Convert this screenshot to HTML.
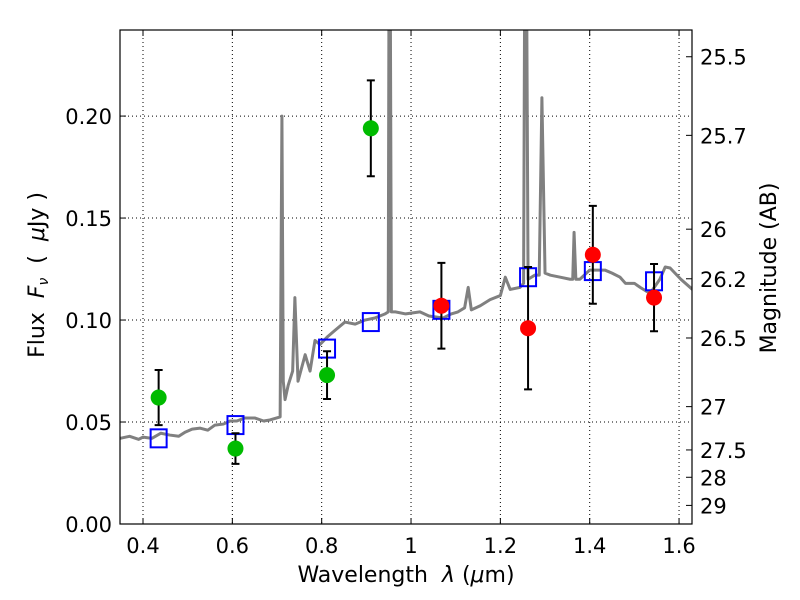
<!DOCTYPE html>
<html><head><meta charset="utf-8"><style>
body{margin:0;background:#fff}
svg{display:block;font-family:"DejaVu Sans","Liberation Sans",sans-serif}
</style></head><body>
<svg id="chart" width="800" height="600">
<rect width="800" height="600" fill="#fff"/>
<g id="grid"></g>
<g id="spec"></g>
<g id="marks"></g>
<g id="axes"></g>
</svg>
<script>
const specLam=[0.349,0.37,0.39,0.4,0.42,0.44,0.46,0.48,0.494,0.51,0.528,0.545,0.561,0.58,0.595,0.61,0.628,0.65,0.67,0.684,0.707,0.711,0.714,0.718,0.725,0.735,0.74,0.747,0.763,0.774,0.785,0.796,0.814,0.83,0.852,0.875,0.897,0.919,0.942,0.949,0.951,0.953,0.956,0.958,0.965,0.988,1.02,1.04,1.072,1.09,1.105,1.12,1.128,1.135,1.155,1.177,1.2,1.211,1.222,1.244,1.252,1.255,1.258,1.262,1.277,1.287,1.293,1.3,1.312,1.334,1.356,1.362,1.365,1.369,1.378,1.40,1.434,1.45,1.468,1.48,1.5,1.513,1.535,1.557,1.569,1.58,1.604,1.63];
const specFlux=[0.042,0.043,0.0415,0.0426,0.042,0.0445,0.0436,0.043,0.045,0.0465,0.047,0.046,0.0485,0.049,0.0505,0.0505,0.052,0.052,0.0505,0.051,0.0525,0.2,0.07,0.061,0.068,0.075,0.111,0.07,0.083,0.075,0.09,0.088,0.092,0.095,0.099,0.098,0.1,0.101,0.103,0.104,0.3,0.3,0.104,0.104,0.104,0.103,0.104,0.102,0.101,0.103,0.104,0.106,0.116,0.105,0.107,0.11,0.112,0.121,0.115,0.116,0.118,0.3,0.3,0.12,0.122,0.122,0.209,0.123,0.122,0.121,0.12,0.12,0.143,0.12,0.12,0.1245,0.1245,0.123,0.121,0.118,0.118,0.116,0.113,0.12,0.126,0.1255,0.12,0.115];
const bands=[0.435,0.607,0.812,0.91,1.068,1.262,1.407,1.544];
const obsFlux=[0.062,0.037,0.073,0.194,0.107,0.096,0.132,0.111];
const obsErr=[0.0135,0.0075,0.0117,0.0235,0.021,0.030,0.024,0.0165];
const obsColor=["#00bb00","#00bb00","#00bb00","#00bb00","#ff0000","#ff0000","#ff0000","#ff0000"];
const modelFlux=[0.042,0.0485,0.086,0.099,0.105,0.121,0.124,0.119];
const xTicks=[0.4,0.6,0.8,1.0,1.2,1.4,1.6];
const xTickLabels=["0.4","0.6","0.8","1","1.2","1.4","1.6"];
const yTicks=[0,0.05,0.1,0.15,0.2];
const yTickLabels=["0.00","0.05","0.10","0.15","0.20"];
const magTicks=[25.5,25.7,26,26.2,26.5,27,27.5,28,29];
const magLabels=["25.5","25.7","26","26.2","26.5","27","27.5","28","29"];

const L=120,R=692,T=30,B=524,X0=0.3485,X1=1.629,Y0=0,Y1=0.2422;
const X=v=>L+(v-X0)/(X1-X0)*(R-L);
const Y=v=>B-(v-Y0)/(Y1-Y0)*(B-T);
const NS="http://www.w3.org/2000/svg";
function mk(tag,attrs,parent,text){const e=document.createElementNS(NS,tag);for(const k in attrs)e.setAttribute(k,attrs[k]);if(text!==undefined)e.textContent=text;document.getElementById(parent).appendChild(e);return e;}

xTicks.forEach((t,i)=>{const g=mk('line',{x1:X(t),x2:X(t),y1:T,y2:B,stroke:'#000','stroke-width':1,'stroke-dasharray':'1,3'},'grid');

});
yTicks.forEach(t=>{const g=mk('line',{x1:L,x2:R,y1:Y(t),y2:Y(t),stroke:'#000','stroke-width':1,'stroke-dasharray':'1,3'},'grid');

});

const clip=mk('clipPath',{id:'pc'},'spec');
const cr=document.createElementNS(NS,'rect');cr.setAttribute('x',L);cr.setAttribute('y',T);cr.setAttribute('width',R-L);cr.setAttribute('height',B-T);clip.appendChild(cr);
const sp=mk('polyline',{points:specLam.map((l,i)=>X(l)+','+Y(specFlux[i])).join(' '),fill:'none',stroke:'#808080','stroke-width':3,'clip-path':'url(#pc)','stroke-linejoin':'round'},'spec');



bands.forEach((b,i)=>{const r=mk('rect',{x:X(b)-8,y:Y(modelFlux[i])-9,width:16,height:18,fill:'none',stroke:'#0000ff','stroke-width':2},'marks');

});
bands.forEach((b,i)=>{const x=X(b),y1=Y(obsFlux[i]+obsErr[i]),y2=Y(obsFlux[i]-obsErr[i]);
const eb=mk('path',{d:`M${x},${y1}V${y2}M${x-4},${y1}H${x+4}M${x-4},${y2}H${x+4}`,stroke:'#000','stroke-width':2,fill:'none'},'marks');


const c=mk('circle',{cx:x,cy:Y(obsFlux[i]),r:8,fill:obsColor[i]},'marks');

});

const fr=mk('rect',{x:L,y:T,width:R-L,height:B-T,fill:'none',stroke:'#000','stroke-width':1.2},'axes');


xTicks.forEach((t,i)=>{mk('path',{d:`M${X(t)},${B}v-6M${X(t)},${T}v6`,stroke:'#000'},'axes');
const tl=mk('text',{x:X(t),y:B+29,'font-size':21,'text-anchor':'middle'},'axes',xTickLabels[i]);

});
yTicks.forEach((t,i)=>{mk('path',{d:`M${L},${Y(t)}h6`,stroke:'#000'},'axes');
const tl=mk('text',{x:L-8,y:Y(t)+8,'font-size':21,'text-anchor':'end'},'axes',yTickLabels[i]);

});
magTicks.forEach((m,i)=>{const f=Math.pow(10,(23.9-m)/2.5);const y=Y(f);
mk('path',{d:`M${R},${y}h-6`,stroke:'#000'},'axes');
const tl=mk('text',{x:R+8,y:y+8,'font-size':21},'axes',magLabels[i]);

});
</script>
<svg style="position:absolute;left:0;top:0" width="800" height="600">
<text x="406" y="582" font-size="22" text-anchor="middle" font-family="DejaVu Sans,sans-serif" xml:space="preserve">Wavelength  <tspan font-style="italic">λ</tspan> (<tspan font-style="italic">μ</tspan>m)</text>
<text transform="translate(44,275) rotate(-90)" font-size="22" text-anchor="middle" font-family="DejaVu Sans,sans-serif" xml:space="preserve">Flux  <tspan font-style="italic">F</tspan><tspan font-size="14" font-style="italic" dy="4">ν</tspan><tspan dy="-4">  (  <tspan font-style="italic">μ</tspan>Jy )</tspan></text>
<text transform="translate(776,268) rotate(-90)" font-size="22" text-anchor="middle" font-family="DejaVu Sans,sans-serif">Magnitude (AB)</text>
</svg>
</body></html>
